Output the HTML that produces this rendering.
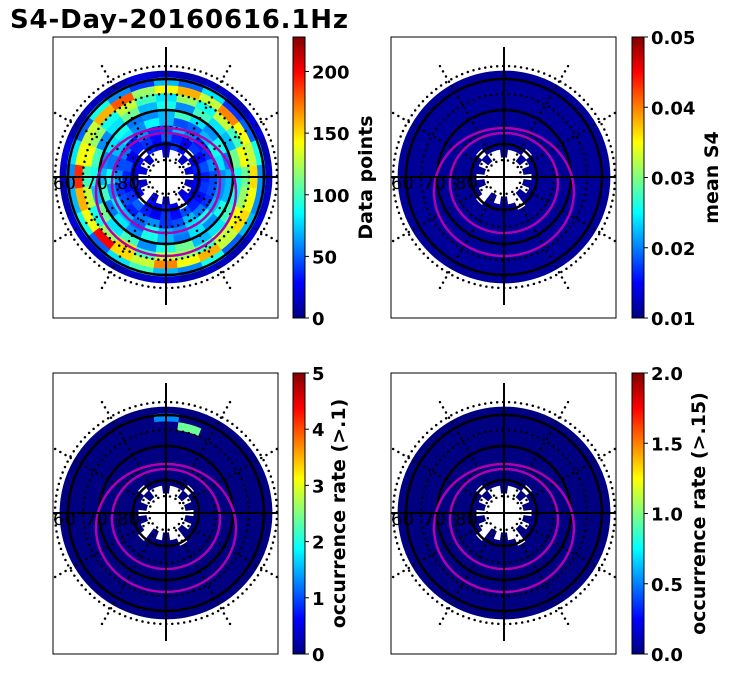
<!DOCTYPE html>
<html><head><meta charset="utf-8"><style>
body{margin:0;background:#fff;}
svg{display:block;font-family:"DejaVu Sans","Liberation Sans",sans-serif;}
.tick{font-size:18px;font-weight:bold;}
.cl{font-size:19px;font-weight:bold;}
</style></head><body>
<svg id="fig" width="731" height="674" viewBox="0 0 731 674">
<defs>
<linearGradient id="jet" x1="0" y1="1" x2="0" y2="0">
<stop offset="0" stop-color="#000080"/><stop offset="0.125" stop-color="#0000ff"/>
<stop offset="0.375" stop-color="#00ffff"/><stop offset="0.625" stop-color="#ffff00"/>
<stop offset="0.875" stop-color="#ff0000"/><stop offset="1" stop-color="#800000"/>
</linearGradient>
</defs>
<text x="10" y="28" font-size="26" font-weight="bold" textLength="338">S4-Day-20160616.1Hz</text>
</svg>
<script>
const ringEdges=[20,28,36,44,52,60,68,76,84,92,100,106];
const counts=[
[0,20,0,15,0,0,25,0,0,15,0,20,0,15,0,0,20,0,15,0,0,20,0,15],
[25,35,20,0,30,40,20,25,35,0,30,25,20,35,25,0,30,20,35,25,0,30,20,25],
[35,45,30,40,25,35,50,30,40,35,25,45,35,30,40,50,35,25,40,30,45,35,30,40],
[45,60,40,35,55,70,45,40,60,35,55,45,60,40,45,35,55,60,40,45,70,55,40,45],
[60,80,90,70,50,45,70,85,60,80,70,55,90,60,80,70,50,90,70,60,80,90,70,60],
[70,55,90,60,80,100,70,60,55,90,80,60,70,100,55,80,60,90,70,55,80,60,90,70],
[90,110,70,80,100,60,90,70,110,80,60,100,90,70,110,80,100,60,90,110,70,80,100,90],
[110,140,100,130,90,120,80,100,130,90,120,140,100,130,90,120,150,100,130,120,100,130,140,120],
[150,130,140,170,130,160,140,120,180,160,130,140,190,160,140,200,150,130,170,140,160,130,150,140],
[60,90,50,40,80,50,70,40,60,90,50,80,60,70,90,50,80,100,70,60,90,50,70,60],
[15,10,20,10,15,10,15,20,10,15,10,20,15,10,20,15,10,15,20,10,15,10,20,15]];
const s4Level=[0.011,0.011,0.011,0.011,0.011,0.011,0.011,0.011,0.011,0.011,0.011];
const occ1Cells=[[9,6,1.3],[8,5,2.4]];
const occ2Cells=[];
const cb1Ticks=[0,50,100,150,200], cb2Ticks=["0.01","0.02","0.03","0.04","0.05"],
cb3Ticks=["0","1","2","3","4","5"], cb4Ticks=["0.0","0.5","1.0","1.5","2.0"];
const panels=[
{x:53,y:37,cbx:293,vmin:0,vmax:228,ticks:cb1Ticks,label:"Data points",lx:372,name:"data-points"},
{x:391,y:37,cbx:632,vmin:0.01,vmax:0.05,ticks:cb2Ticks,label:"mean S4",lx:718,name:"mean-s4"},
{x:53,y:373,cbx:293,vmin:0,vmax:5,ticks:cb3Ticks,label:"occurrence rate (>.1)",lx:345,name:"occ-rate-01"},
{x:391,y:373,cbx:632,vmin:0,vmax:2,ticks:cb4Ticks,label:"occurrence rate (>.15)",lx:705,name:"occ-rate-015"}];
const W=225,H=281,CBW=12,NS="http://www.w3.org/2000/svg",svg=document.getElementById('fig');
function jet(t){t=Math.max(0,Math.min(1,t));
 const f=x=>Math.round(255*Math.max(0,Math.min(1,x)));
 return `rgb(${f(1.5-Math.abs(4*t-3))},${f(1.5-Math.abs(4*t-2))},${f(1.5-Math.abs(4*t-1))})`;}
function mk(tag,a,parent){const e=document.createElementNS(NS,tag);for(const k in a)e.setAttribute(k,a[k]);(parent||svg).appendChild(e);return e;}
function sector(cx,cy,r0,r1,a0,a1){const p=(r,a)=>[cx+r*Math.cos(a*Math.PI/180),cy-r*Math.sin(a*Math.PI/180)];
 const [x1,y1]=p(r1,a0),[x2,y2]=p(r1,a1),[x3,y3]=p(r0,a1),[x4,y4]=p(r0,a0);
 return `M${x1},${y1}A${r1},${r1} 0 0 0 ${x2},${y2}L${x3},${y3}A${r0},${r0} 0 0 1 ${x4},${y4}Z`;}
panels.forEach((P,pi)=>{
 const cx=P.x+113,cy=P.y+140;
 const g=mk('g',{});
 
 
 const cp=mk('clipPath',{id:'cp'+pi},g);mk('rect',{x:P.x,y:P.y,width:W,height:H},cp);
 const inner=mk('g',{'clip-path':`url(#cp${pi})`},g);
 const dw=360/24;
 counts.forEach((row,ri)=>row.forEach((c,si)=>{
  if(!c)return;
  let v;
  if(pi===0)v=c;else if(pi===1)v=s4Level[ri];else v=0;
  const list=pi===2?occ1Cells:pi===3?occ2Cells:[];
  list.forEach(q=>{if(q[0]===ri&&q[1]===si)v=q[2];});
  const col=jet((v-P.vmin)/(P.vmax-P.vmin));
  const s=mk('path',{d:sector(cx,cy,ringEdges[ri],ringEdges[ri+1],si*dw-7.5,(si+1)*dw-7.5),fill:col,stroke:col,'stroke-width':0.8},inner);
  
  
 }));
 [17,50,83,111].forEach(r=>mk('circle',{cx,cy,r,fill:'none',stroke:'#000','stroke-width':2.5,'stroke-dasharray':'0,6','stroke-linecap':'round'},inner));
 for(let a=30;a<360;a+=30){if(a%90===0)continue;const c=Math.cos(a*Math.PI/180),s=Math.sin(a*Math.PI/180);
  mk('line',{x1:cx+20*c,y1:cy-20*s,x2:cx+132*c,y2:cy-132*s,stroke:'#000','stroke-width':2.5,'stroke-dasharray':'0,6','stroke-linecap':'round'},inner);}
 [33,67,98].forEach(r=>mk('circle',{cx,cy,r,fill:'none',stroke:'#000','stroke-width':2.5},inner));
 mk('ellipse',{cx,cy:cy+15,rx:70,ry:64,fill:'none',stroke:'#b000b0','stroke-width':2.5},inner);
 mk('ellipse',{cx,cy:cy+6,rx:54,ry:50,fill:'none',stroke:'#b000b0','stroke-width':2.5},inner);
 mk('line',{x1:P.x,y1:cy,x2:P.x+W,y2:cy,stroke:'#000','stroke-width':2},inner);
 mk('line',{x1:cx,y1:P.y+10,x2:cx,y2:P.y+268,stroke:'#000','stroke-width':2},inner);
 ['60','70','80'].forEach((t,i)=>{const e=mk('text',{x:P.x+0+i*32,y:cy+12,'font-size':18},inner);e.textContent=t;});
 mk('rect',{x:P.x,y:P.y,width:W,height:H,fill:'none',stroke:'#000','stroke-width':1});
 const cb=mk('rect',{x:P.cbx,y:P.y,width:CBW,height:H,fill:'url(#jet)',stroke:'#000','stroke-width':1});
 
 
 P.ticks.forEach(t=>{const v=parseFloat(t),yy=P.y+H-(v-P.vmin)/(P.vmax-P.vmin)*H;
  mk('line',{x1:P.cbx+CBW,y1:yy,x2:P.cbx+CBW+4,y2:yy,stroke:'#000'});
  const e=mk('text',{x:P.cbx+CBW+7,y:yy+7,class:'tick'});e.textContent=t;
  
  });
 const l=mk('text',{x:P.lx,y:P.y+H/2,class:'cl','text-anchor':'middle',transform:`rotate(-90 ${P.lx} ${P.y+H/2})`});
 l.textContent=P.label;
 
 
});
</script>
</body></html>
